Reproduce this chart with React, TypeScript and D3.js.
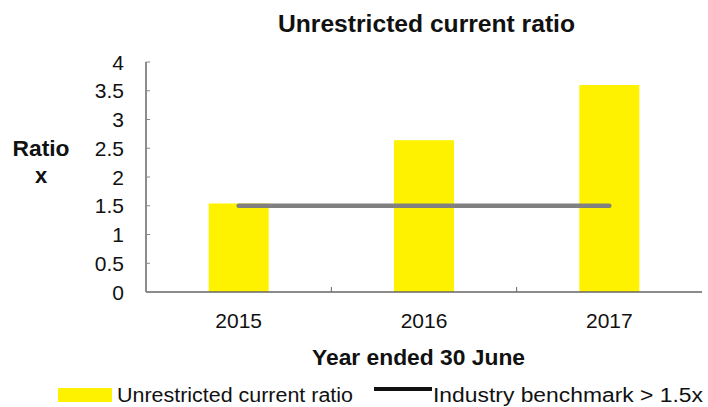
import React from "react";
import * as d3 from "d3";

const categories = ["2015", "2016", "2017"];
const ratioValues = [1.54, 2.64, 3.6];
const benchmarkValues = [1.5, 1.5, 1.5];
const yTicks = [0, 0.5, 1, 1.5, 2, 2.5, 3, 3.5, 4];

const W = 708;
const H = 407;
const FONT = "Arial, 'Liberation Sans', sans-serif";

export default function App() {
  const x = d3.scaleBand<string>().domain(categories).range([146, 702]).paddingInner(0.676).paddingOuter(0.338);
  const y = d3.scaleLinear().domain([0, 4]).range([292, 62]);
  const step = x.step();
  const line = d3
    .line<number>()
    .x((_, i) => (x(categories[i]) as number) + x.bandwidth() / 2)
    .y((d) => y(d));
  const bounds = categories.slice(1).map((c) => (x(c) as number) - (step - x.bandwidth()) / 2);

  return (
    <svg width={W} height={H} style={{ position: "absolute", left: 0, top: 0, background: "#fff" }} fontFamily={FONT}>
      <text x={278} y={32} fontSize={23} fontWeight="bold" fill="#111" textLength={297} lengthAdjust="spacingAndGlyphs">
        Unrestricted current ratio
      </text>
      {/* bars */}
      {categories.map((c, i) => (
        <rect key={c} x={x(c)} y={y(ratioValues[i])} width={x.bandwidth()} height={y(0) - y(ratioValues[i])} fill="#FFF200" />
      ))}
      {/* axes */}
      <line x1={146} x2={146} y1={y(4)} y2={y(0)} stroke="#666" strokeWidth={1.5} />
      <line x1={146} x2={702} y1={y(0)} y2={y(0)} stroke="#666" strokeWidth={1.5} />
      {yTicks.map((t) => (
        <g key={t}>
          <line x1={146} x2={150} y1={y(t)} y2={y(t)} stroke="#888" strokeWidth={1} />
          <text x={124} y={y(t)} dy="0.36em" textAnchor="end" fontSize={21} fill="#111">
            {t}
          </text>
        </g>
      ))}
      {bounds.map((b, i) => (
        <line key={i} x1={b} x2={b} y1={y(0)} y2={y(0) - 5} stroke="#666" strokeWidth={1} />
      ))}
      {categories.map((c) => (
        <text key={c} x={(x(c) as number) + x.bandwidth() / 2} y={328} textAnchor="middle" fontSize={21} fill="#111">
          {c}
        </text>
      ))}
      {/* benchmark line */}
      <path d={line(benchmarkValues) || ""} fill="none" stroke="#808080" strokeWidth={4.5} strokeLinecap="round" />
      {/* axis titles */}
      <text x={41} y={156} textAnchor="middle" fontSize={22} fontWeight="bold" fill="#111" textLength={57} lengthAdjust="spacingAndGlyphs">
        Ratio
      </text>
      <text x={41} y={183} textAnchor="middle" fontSize={22} fontWeight="bold" fill="#111">
        x
      </text>
      <text x={312} y={365} fontSize={22} fontWeight="bold" fill="#111" textLength={213} lengthAdjust="spacingAndGlyphs">
        Year ended 30 June
      </text>
      {/* legend */}
      <rect x={58} y={388} width={54} height={14} fill="#FFF200" />
      <text x={117} y={402} fontSize={20} fill="#111" textLength={236} lengthAdjust="spacingAndGlyphs">
        Unrestricted current ratio
      </text>
      <line x1={374} x2={432} y1={389} y2={389} stroke="#111" strokeWidth={4} />
      <text x={433} y={402} fontSize={20} fill="#111" textLength={270} lengthAdjust="spacingAndGlyphs">
        Industry benchmark &gt; 1.5x
      </text>
    </svg>
  );
}
